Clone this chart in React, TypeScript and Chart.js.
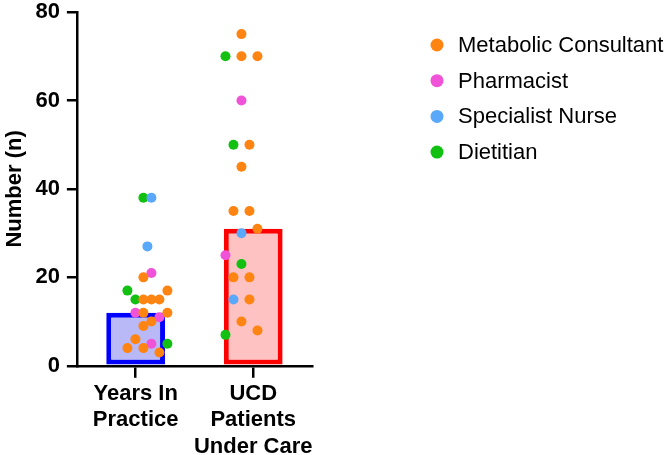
import React, { useEffect, useRef } from 'react';
import Chart from 'chart.js/auto';

// categories on the x axis (multi-line labels as in the figure)
const categoryLabels = [['Years In', 'Practice'], ['UCD', 'Patients', 'Under Care']];
const medians = [12, 31];
const barFills = ['#b9b9f7', '#ffc2c2'];
const barBorders = ['#0000ff', '#ff0000'];

const roleKeys = ['M', 'P', 'N', 'D'];
const roleNames = ['Metabolic Consultant', 'Pharmacist', 'Specialist Nurse', 'Dietitian'];
const roleColors = ['#ff8412', '#f052d8', '#5aa8fa', '#12c012'];

// Years In Practice: value, role, beeswarm column slot
const yearsValues = [38, 38, 27, 21, 20, 17, 17, 15, 15, 15, 15, 12, 12, 11, 12, 10, 9, 6, 4, 4, 5, 5, 3];
const yearsRoles = ['D', 'N', 'N', 'P', 'M', 'D', 'M', 'D', 'M', 'M', 'M', 'P', 'M', 'P', 'M', 'M', 'M', 'M', 'M', 'M', 'P', 'D', 'M'];
const yearsSlots = [-0.5, 0.5, 0, 0.5, -0.5, -2.5, 2.5, -1.5, -0.5, 0.5, 1.5, -1.5, -0.5, 1.5, 2.5, 0.5, -0.5, -1.5, -2.5, -0.5, 0.5, 2.5, 1.5];

// UCD Patients Under Care
const patientValues = [75, 70, 70, 70, 60, 50, 50, 45, 35, 35, 31, 30, 25, 23, 20, 20, 15, 15, 10, 8, 7];
const patientRoles = ['M', 'D', 'M', 'M', 'P', 'D', 'M', 'M', 'M', 'M', 'M', 'N', 'P', 'D', 'M', 'M', 'N', 'M', 'M', 'M', 'D'];
const patientSlots = [0, -2, 0, 2, 0, -1, 1, 0, -1, 1, 2, 0, -2, 0, -1, 1, -1, 1, 0, 2, -2];

const yTicks = [0, 20, 40, 60, 80];

const SLOT = 0.085;
const FONT = 'Arial, "Liberation Sans", sans-serif';

const groups = [
  { values: yearsValues, roles: yearsRoles, slots: yearsSlots },
  { values: patientValues, roles: patientRoles, slots: patientSlots },
];

function pointsFor(key: string) {
  const pts: { x: number; y: number }[] = [];
  groups.forEach((g, gi) => {
    g.values.forEach((v, i) => {
      if (g.roles[i] === key) pts.push({ x: gi + g.slots[i] * SLOT, y: v });
    });
  });
  return pts;
}

const legendPlugin = {
  id: 'sideLegend',
  afterDraw(chart: any) {
    const { ctx } = chart;
    ctx.save();
    ctx.font = `22px ${FONT}`;
    ctx.textBaseline = 'middle';
    roleNames.forEach((name, i) => {
      const y = 45 + i * 35.7;
      ctx.fillStyle = roleColors[i];
      ctx.beginPath();
      ctx.arc(437, y, 6.5, 0, Math.PI * 2);
      ctx.fill();
      ctx.fillStyle = '#000';
      ctx.fillText(name, 458, y + 1);
    });
    ctx.restore();
  },
};

const App: React.FC = () => {
  const canvasRef = useRef<HTMLCanvasElement>(null);

  useEffect(() => {
    let chart: Chart | null = null;
    if (canvasRef.current) {
      const ctx = canvasRef.current.getContext('2d');
      if (ctx) {
        chart = new Chart(ctx, {
          type: 'bar',
          data: {
            labels: categoryLabels as any,
            datasets: [
              {
                type: 'bar',
                data: medians,
                backgroundColor: barFills,
                borderColor: barBorders,
                borderWidth: 5,
                borderSkipped: false,
                grouped: false,
                barPercentage: 0.5,
                categoryPercentage: 1,
                order: 2,
              } as any,
              ...roleKeys.map((key, ri) => ({
                type: 'scatter',
                xAxisID: 'x2',
                label: roleNames[ri],
                data: pointsFor(key),
                backgroundColor: roleColors[ri],
                pointRadius: 5,
                pointHoverRadius: 5,
                pointBorderWidth: 0,
                order: 1,
              })) as any,
            ],
          },
          options: {
            animation: false,
            responsive: true,
            maintainAspectRatio: false,
            layout: { padding: { top: 0, right: 357, left: 0, bottom: -8 } },
            plugins: {
              legend: { display: false },
              tooltip: { enabled: false },
            },
            scales: {
              x: {
                type: 'category',
                offset: true,
                grid: { offset: false, drawOnChartArea: false, drawTicks: true, tickLength: 12, color: '#000', lineWidth: 2.5 },
                border: { display: true, color: '#000', width: 2.5 },
                ticks: {
                  color: '#000',
                  padding: 3,
                  maxRotation: 0,
                  autoSkip: false,
                  font: { family: FONT, size: 22, weight: 'bold', lineHeight: 1.2 },
                },
              },
              x2: {
                type: 'linear',
                display: false,
                min: -0.5,
                max: 1.5,
              },
              y: {
                min: 0,
                max: 80,
                afterBuildTicks: (axis: any) => {
                  axis.ticks = yTicks.map((v) => ({ value: v }));
                },
                grid: { drawOnChartArea: false, drawTicks: true, tickLength: 10, color: '#000', lineWidth: 2.5 },
                border: { display: true, color: '#000', width: 2.5 },
                ticks: {
                  color: '#000',
                  padding: 7,
                  font: { family: FONT, size: 22, weight: 'bold', lineHeight: 1.1 },
                },
                afterFit: (axis: any) => {
                  axis.paddingTop = 12;
                },
                title: {
                  display: true,
                  text: 'Number (n)',
                  color: '#000',
                  font: { family: FONT, size: 22, weight: 'bold' },
                  padding: { top: 2, bottom: 0 },
                },
              },
            },
          },
          plugins: [legendPlugin],
        });
      }
    }
    return () => {
      if (chart) chart.destroy();
    };
  }, []);

  return (
    <div style={{ position: 'fixed', left: 0, top: 0, width: 669, height: 455, background: '#fff' }}>
      <canvas ref={canvasRef} />
    </div>
  );
};

export default App;
